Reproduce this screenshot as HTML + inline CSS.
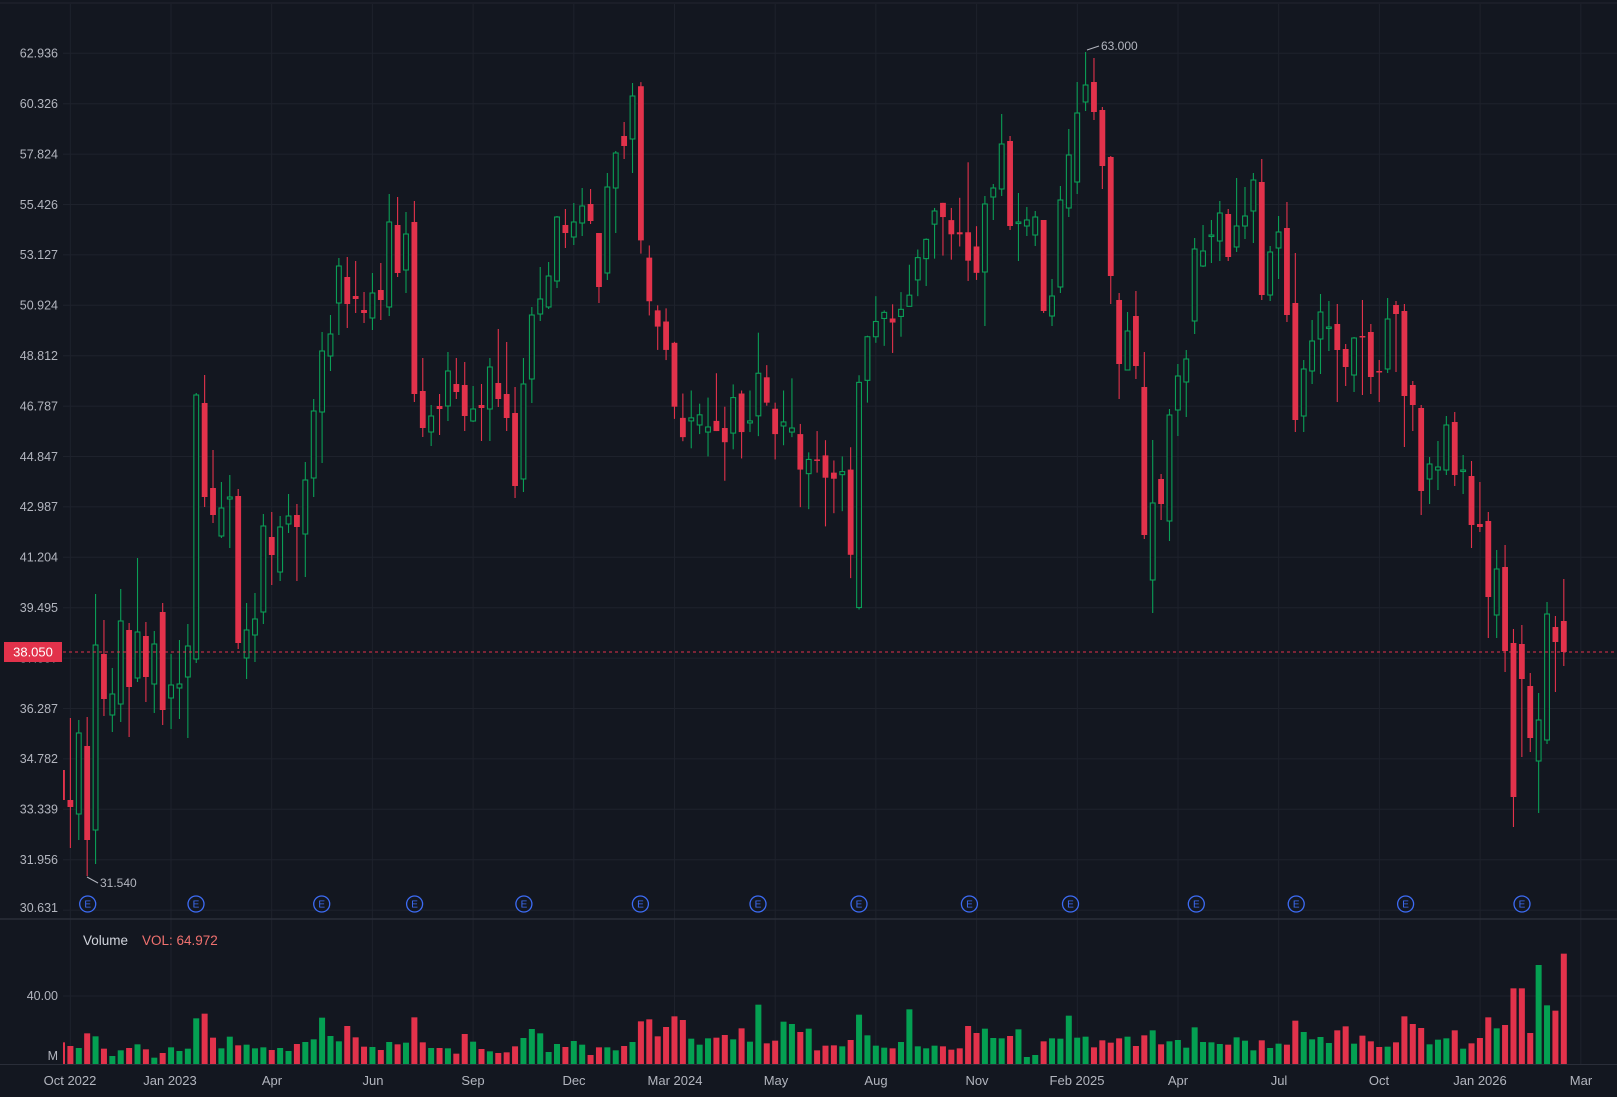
<!DOCTYPE html>
<html><head><meta charset="utf-8"><style>
html,body{margin:0;padding:0;background:#131720;}
svg{display:block;}
text{font-family:"Liberation Sans",sans-serif;}
</style></head><body>
<svg id="s" width="1617" height="1097" viewBox="0 0 1617 1097" xmlns="http://www.w3.org/2000/svg">
<rect width="1617" height="1097" fill="#131720"/>
<line x1="0" y1="3" x2="1617" y2="3" stroke="#23262f" stroke-width="1"/>
<g id="grid" stroke="#1e222c" stroke-width="1"></g>
<line x1="0" y1="919" x2="1617" y2="919" stroke="#2a2e39" stroke-width="1.5"/>
<line x1="0" y1="1064.5" x2="1617" y2="1064.5" stroke="#2a2e39" stroke-width="1"/>
<g id="plabels" font-size="12.5" fill="#b2b5be" text-anchor="end">
<text x="58" y="57.5">62.936</text><text x="58" y="108">60.326</text><text x="58" y="158.5">57.824</text>
<text x="58" y="209">55.426</text><text x="58" y="259">53.127</text><text x="58" y="309.5">50.924</text>
<text x="58" y="360">48.812</text><text x="58" y="410.5">46.787</text><text x="58" y="461">44.847</text>
<text x="58" y="511">42.987</text><text x="58" y="561.5">41.204</text><text x="58" y="612">39.495</text>
<text x="58" y="662.5">37.857</text><text x="58" y="713">36.287</text><text x="58" y="763">34.782</text>
<text x="58" y="813.5">33.339</text><text x="58" y="864">31.956</text><text x="58" y="912">30.631</text>
<text x="58" y="1000">40.00</text><text x="58" y="1060">M</text>
</g>
<g id="vol"></g>
<g id="cnd"></g>
<line x1="63" y1="652" x2="1617" y2="652" stroke="#e2324b" stroke-width="1" stroke-dasharray="3,3"/>
<rect x="4" y="642" width="58" height="20" fill="#e2324b"/>
<text x="33" y="656.5" font-size="13" fill="#ffffff" text-anchor="middle">38.050</text>
<line x1="87" y1="877" x2="98" y2="883" stroke="#b2b5be" stroke-width="1"/>
<text x="100" y="887" font-size="12" fill="#b2b5be">31.540</text>
<line x1="1087" y1="50" x2="1099" y2="46" stroke="#b2b5be" stroke-width="1"/>
<text x="1101" y="50" font-size="12" fill="#b2b5be">63.000</text>
<text x="83" y="945" font-size="13.5" fill="#d1d4dc">Volume</text>
<text x="142" y="945" font-size="13.5" fill="#f0716f">VOL: 64.972</text>
<g id="ev" font-size="10" fill="#3d6cf5" text-anchor="middle"></g>
<g font-size="13" fill="#b2b5be" text-anchor="middle">
<text x="70" y="1085">Oct 2022</text><text x="170" y="1085">Jan 2023</text><text x="272" y="1085">Apr</text>
<text x="373" y="1085">Jun</text><text x="473" y="1085">Sep</text><text x="574" y="1085">Dec</text>
<text x="675" y="1085">Mar 2024</text><text x="776" y="1085">May</text><text x="876" y="1085">Aug</text>
<text x="977" y="1085">Nov</text><text x="1077" y="1085">Feb 2025</text><text x="1178" y="1085">Apr</text>
<text x="1279" y="1085">Jul</text><text x="1379" y="1085">Oct</text><text x="1480" y="1085">Jan 2026</text>
<text x="1581" y="1085">Mar</text>
</g>
</svg>
<script>
var NS="http://www.w3.org/2000/svg";
function el(p,t,a){var e=document.createElementNS(NS,t);for(var k in a)e.setAttribute(k,a[k]);p.appendChild(e);return e;}
var g=document.getElementById('grid');
for(var k=0;k<18;k++){var y=53.3+50.4*k;if(y<919)el(g,'line',{x1:63,y1:y,x2:1617,y2:y});}
el(g,'line',{x1:63,y1:996,x2:1617,y2:996});
for(var j=0;j<16;j++){var x=70.3+100.7*j;el(g,'line',{x1:x,y1:4,x2:x,y2:1064});}
var C=[
['r',770,800,701,837],['r',800,807,718,848],['g',733,814,720,840],['r',746,840,717,876],['g',645,830,594,864],
['r',654,699,620,716],['g',694,715,668,732],['g',621,704,589,722],['r',630,687,623,737],['g',632,678,558,682],
['r',636,677,622,702],['g',644,684,631,713],['r',612,710,603,725],['g',685,698,654,729],['g',684,688,640,719],
['g',646,677,624,738],['g',395,659,393,663],['r',403,497,375,507],['r',488,515,450,523],['g',508,536,482,538],
['g',497,499,475,548],['r',496,643,489,649],['g',630,658,603,679],['g',619,635,593,662],['g',526,612,514,624],
['r',537,555,512,585],['g',527,572,516,581],['g',516,524,494,533],['r',515,527,504,581],['g',480,534,462,577],
['g',411,478,399,497],['g',351,412,332,463],['g',334,356,315,371],['g',266,303,258,335],['r',277,304,257,328],
['r',296,299,261,313],['r',310,313,292,323],['g',293,318,273,330],['r',290,300,263,320],['g',222,307,194,316],
['r',225,273,197,277],['g',234,270,212,293],['r',222,394,201,402],['r',391,428,358,437],['g',416,432,405,446],
['r',406,409,394,435],['g',371,406,352,421],['r',384,392,358,399],['r',385,416,362,431],['g',409,421,386,422],
['r',405,408,384,441],['g',367,409,358,441],['r',383,399,329,407],['r',394,418,342,431],['r',413,486,387,498],
['g',384,479,358,492],['g',315,379,307,403],['g',299,314,267,321],['g',276,307,262,309],['g',217,281,216,288],
['r',225,233,209,248],['g',222,237,203,245],['g',206,223,188,236],['r',204,221,189,224],['r',233,287,233,303],
['g',187,273,173,280],['g',153,188,151,233],['r',136,146,122,159],['g',96,139,83,173]];
var Z3=[
['r',86,238,82,251],['r',255,298,243,312],['r',307,323,302,346],['r',318,346,305,356],['r',339,402,338,414],
['r',413,432,389,436],['g',413,416,386,443],['g',410,420,399,429],['g',422,427,393,451],['r',416,426,369,426],
['r',423,437,402,475],['g',393,428,380,444],['r',389,427,386,453],['g',416,418,386,427],['g',369,411,329,431],
['r',373,398,361,401],['r',404,429,398,454],['g',417,421,386,440],['g',423,427,374,432],['r',429,464,419,501],
['g',454,468,447,503],['r',454,455,426,467],['r',450,472,435,520],['r',467,473,455,507],['g',466,469,451,505],
['r',464,548,442,571],['g',378,600,371,602],['g',333,376,332,398],['g',318,333,293,339],['g',309,315,307,342],
['r',315,319,301,349],['g',306,313,289,333],['g',292,303,262,303],['g',255,277,247,293],['g',237,256,236,283],
['g',209,222,206,256],['r',201,215,201,253],['r',218,232,206,257],['r',230,232,196,244],['r',230,258,161,278],
['r',244,270,224,277]];
Z3.forEach(function(c){C.push([c[0]].concat(c.slice(1).map(function(v){return 70+(v-70)*1.0142;})));});
C=C.concat([
['g',204,272,196,326],['g',188,197,184,220],['g',144,189,114,196],['r',141,226,136,230],['g',222,223,193,261],
['g',220,226,207,236],['g',217,235,211,246],['r',220,311,220,313],['g',296,316,279,326],['g',200,287,186,293],
['g',155,208,129,217],['g',113,182,82,194],['g',85,102,52,111],['r',82,112,58,120],['r',110,166,107,189],
['r',157,276,156,304],['r',300,364,293,399],['g',331,370,312,370],['r',316,366,291,379],['r',387,535,352,539],
['g',503,580,440,613],['r',479,504,474,520],['g',415,521,409,541],['g',376,410,364,436],['g',359,382,350,417],
['g',249,321,238,334],['g',251,266,225,267],['g',235,236,220,263],['g',213,241,201,261],['r',214,257,209,261],
['g',226,247,178,252],['g',216,226,187,239],['g',180,211,173,243],['r',182,295,159,300],['g',252,295,246,301],
['g',232,248,216,279],['r',228,315,202,322],['r',303,420,253,432],['g',369,416,360,432],['g',341,371,320,384],
['g',312,339,294,374],['g',327,328,301,351],['r',324,350,304,402],
['r',349,367,344,386],['g',338,375,337,392],['r',336,337,300,395],['r',332,377,324,394],['r',371,372,360,402],
['g',319,369,298,373],['r',305,314,301,372],['r',311,396,304,447],['r',385,405,381,431],['r',408,491,405,515],
['g',464,479,457,504],['g',467,470,441,490],['g',425,470,416,475],['r',422,475,412,486],['g',470,471,455,494],
['r',476,525,461,548],['r',524,527,482,532],['r',521,597,512,638],['g',569,615,550,638],['r',567,651,545,672],
['r',643,797,629,827],['r',644,679,625,757],['r',686,738,673,752],['g',720,761,693,813],['g',614,740,602,744],
['r',627,642,616,692],['r',621,652,579,666]]);
var V="r367 r378 g384 r340 g349 r386 g408 g391 r384 g373 r388 g413 r399 g382 g393 g386 g295 r281 r353 g385 g350 r376 g374 g385 g382 r390 g384 g393 r372 g366 g358 g293 g348 g364 r318 r352 r380 g381 r390 g366 r373 g368 r292 r367 g384 r384 g385 r401 r342 g365 r387 g394 r399 r397 r379 g354 g327 g340 g396 g372 r381 g363 "+
"g374 r405 r382 g382 g391 r378 g366 r304 r298 r349 r321 r289 r300 g356 g374 g355 r353 r345 g358 r325 g365 g254 r370 r362 g305 g312 r336 g326 r391 r377 r376 g379 r360 g284 g346 g377 g383 r385 g366 g268 g379 g385 g377 r379 r389 r385 r318 r339 g326 g354 g355 r348 g328 g411 g405 r364 g355 g356 g287 g353 g350 "+
"r382 r361 r368 r355 g350 r378 r346 g331 r373 g364 g360 g383 g322 g366 g367 g372 r374 g352 g362 g391 r361 g384 g371 r374 r302 g336 g358 g351 g369 r331 r319 g371 r347 r364 r381 g380 r367 r289 r312 r324 g373 g359 g355 r331 g386 r370 r354 r292 g325 r315 r205 r205 r339 g135 g256 r272 r101";
var RED="#e2324b",GRN="#0a9e56",VG="#04a052";
var vg=document.getElementById('vol'),cg=document.getElementById('cnd');
var clip=el(document.getElementById('s'),'clipPath',{id:'cp'});el(clip,'rect',{x:63,y:4,width:1554,height:914});
var clip2=el(document.getElementById('s'),'clipPath',{id:'cp2'});el(clip2,'rect',{x:63,y:920,width:1554,height:144});
cg.setAttribute('clip-path','url(#cp)');vg.setAttribute('clip-path','url(#cp2)');
V.split(' ').forEach(function(s,i){var x=62+8.39*i;var h=(432-parseInt(s.slice(1)))/3;
el(vg,'rect',{x:x-3,y:1064-h,width:6,height:h,fill:s[0]=='r'?RED:VG});});
C.forEach(function(c,i){var x=62+8.39*i;var col=c[0]=='r'?RED:GRN;
var bt=Math.min(c[1],c[2]),bb=Math.max(c[1],c[2]);if(bb-bt<1.5){bb=bt+1.5;}
el(cg,'line',{x1:x,y1:c[3],x2:x,y2:c[4],stroke:col,'stroke-width':1.1});
if(c[0]=='r')el(cg,'rect',{x:x-2.9,y:bt,width:5.8,height:bb-bt,fill:col});
else el(cg,'rect',{x:x-2.4,y:bt,width:4.8,height:bb-bt,fill:'#131720',stroke:col,'stroke-width':1.1});});
var ev=document.getElementById('ev');
[87.7,196,321.7,414.6,523.9,640.4,758,859,969.4,1070.5,1196.3,1296.2,1405.6,1522].forEach(function(x){
el(ev,'circle',{cx:x,cy:904,r:8,fill:'#131720',stroke:'#3d6cf5','stroke-width':1.3});
var t=el(ev,'text',{x:x,y:907.5});t.textContent='E';});
</script>
</body></html>
